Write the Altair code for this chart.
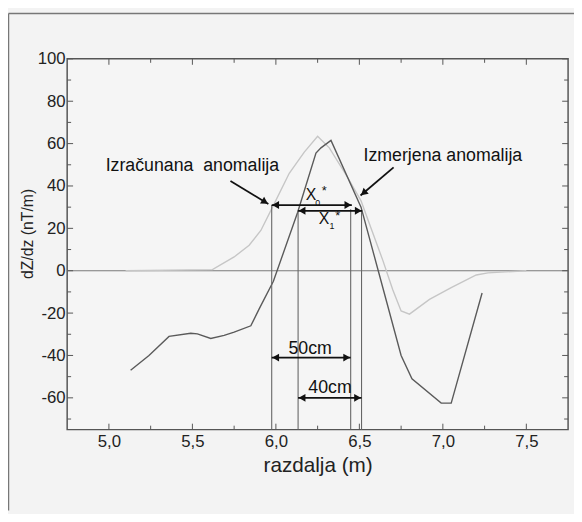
import math
import altair as alt
import pandas as pd

# ---------------- data ----------------
dist_measured = [5.13, 5.24, 5.36, 5.49, 5.53, 5.61, 5.69, 5.75, 5.85, 5.90, 5.985,
                 6.13, 6.24, 6.27, 6.33, 6.51, 6.62, 6.75, 6.815, 6.99, 7.05, 7.235]
dz_measured = [-47, -40, -31, -29.5, -29.8, -32, -30.5, -29, -26, -18, -5,
               27.5, 55.5, 58, 61.5, 30, -2, -40, -51, -62.5, -62.5, -10.5]

dist_calc = [5.10, 5.62, 5.75, 5.84, 5.91, 5.98, 6.08, 6.17, 6.25, 6.32, 6.43,
             6.51, 6.57, 6.64, 6.70, 6.75, 6.80, 6.92, 7.05, 7.20, 7.27, 7.50]
dz_calc = [0, 0.5, 6.5, 12, 19, 30, 46, 56, 63.5, 58, 44,
           33, 20, 5, -9, -19, -20.5, -13.5, -8, -2, -1, 0]

zero_level = [0]

guide_x = [5.975, 6.133, 6.448, 6.513]
guide_top = [31, 28.5, 29, 28.5]

span_x1 = [5.975, 6.133, 5.975, 6.133]
span_x2 = [6.455, 6.517, 6.448, 6.513]
span_y = [31, 28.3, -41, -60]

pointer_x1 = [5.728, 6.705]
pointer_y1 = [42.3, 48.8]
pointer_x2 = [5.955, 6.507]
pointer_y2 = [31.5, 35.5]

label_text = ["Izračunana\u00a0 anomalija", "Izmerjena anomalija", "50cm", "40cm"]
label_x = [5.50, 7.0, 6.205, 6.324]
label_y = [49.3, 54, -37, -55.3]

sym_text = ["X", "X"]
sym_x = [6.21, 6.288]
sym_y = [35.8, 24.2]
sub_text = ["0", "1"]
sub_x = [6.251, 6.336]
sub_y = [32.0, 21.0]
star_text = ["*", "*"]
star_x = [6.29, 6.37]
star_y = [37.5, 26.0]

x_ticks_major = [5.0, 5.5, 6.0, 6.5, 7.0, 7.5]
x_ticks_minor = [5.25, 5.75, 6.25, 6.75, 7.25]
y_ticks_major = [-60, -40, -20, 0, 20, 40, 60, 80, 100]
y_ticks_minor = [-70, -50, -30, -10, 10, 30, 50, 70, 90]

X_DOMAIN = [4.75, 7.75]
Y_DOMAIN = [-75, 100]

# ---------------- layout / style ----------------
W, H = 508, 376
FONT = "Liberation Sans"
PX_X = W / (X_DOMAIN[1] - X_DOMAIN[0])
PX_Y = H / (Y_DOMAIN[1] - Y_DOMAIN[0])

xscale = alt.Scale(domain=X_DOMAIN, nice=False, zero=False)
yscale = alt.Scale(domain=Y_DOMAIN, nice=False, zero=False)

xaxis = alt.Axis(values=x_ticks_major, labelExpr="replace(format(datum.value, '.1f'), '.', ',')",
                 ticks=False, domain=False, grid=False, labelPadding=4,
                 labelFontSize=17, labelFont=FONT, labelColor="#222",
                 title="razdalja (m)", titleFont=FONT, titleFontSize=21, titleFontWeight="normal",
                 titleColor="#222", titleY=25, titleBaseline="top")
yaxis = alt.Axis(values=y_ticks_major, labelExpr="datum.value + ''",
                 ticks=False, domain=False, grid=False, labelPadding=2,
                 labelFontSize=17, labelFont=FONT, labelColor="#222",
                 title="dZ/dz (nT/m)", titleFont=FONT, titleFontSize=16, titleFontWeight="normal",
                 titleColor="#222", titleX=-32, titleY=177)


def X(field):
    return alt.X(f"{field}:Q", scale=xscale, axis=xaxis)


def Y(field):
    return alt.Y(f"{field}:Q", scale=yscale, axis=yaxis)


layers = []

# zero line
layers.append(alt.Chart(pd.DataFrame({"y": zero_level})).mark_rule(color="#7a7a7a", strokeWidth=1.2)
              .encode(y=Y("y"), x=alt.value(0), x2=alt.value(W)))

# calculated anomaly (light)
df_calc = pd.DataFrame({"x": dist_calc, "y": dz_calc, "o": range(len(dist_calc))})
layers.append(alt.Chart(df_calc).mark_line(color="#c6c6c6", strokeWidth=1.4)
              .encode(x=X("x"), y=Y("y"), order="o:Q"))

# measured anomaly (dark)
df_meas = pd.DataFrame({"x": dist_measured, "y": dz_measured, "o": range(len(dist_measured))})
layers.append(alt.Chart(df_meas).mark_line(color="#5a5a5a", strokeWidth=1.4)
              .encode(x=X("x"), y=Y("y"), order="o:Q"))

# vertical guides
df_guides = pd.DataFrame({"x": guide_x, "top": guide_top, "bottom": [Y_DOMAIN[0]] * len(guide_x)})
layers.append(alt.Chart(df_guides).mark_rule(color="#666", strokeWidth=1.1)
              .encode(x=X("x"), y=Y("bottom"), y2="top:Q"))

# double arrows
df_span = pd.DataFrame({"x1": span_x1, "x2": span_x2, "y": span_y})
layers.append(alt.Chart(df_span).mark_rule(color="#111", strokeWidth=1.8)
              .encode(x=X("x1"), x2="x2:Q", y=Y("y")))
layers.append(alt.Chart(df_span).mark_point(shape="triangle-left", filled=True, size=64, color="#111",
                                            opacity=1, xOffset=4)
              .encode(x=X("x1"), y=Y("y")))
layers.append(alt.Chart(df_span).mark_point(shape="triangle-right", filled=True, size=64, color="#111",
                                            opacity=1, xOffset=-4)
              .encode(x=X("x2"), y=Y("y")))

# pointer arrows
for i in range(len(pointer_x1)):
    dxp = (pointer_x2[i] - pointer_x1[i]) * PX_X
    dyp = -(pointer_y2[i] - pointer_y1[i]) * PX_Y
    ang = math.degrees(math.atan2(dyp, dxp)) % 360
    ux, uy = dxp / math.hypot(dxp, dyp), dyp / math.hypot(dxp, dyp)
    dfp = pd.DataFrame({"x1": [pointer_x1[i]], "y1": [pointer_y1[i]],
                        "x2": [pointer_x2[i]], "y2": [pointer_y2[i]]})
    layers.append(alt.Chart(dfp).mark_rule(color="#111", strokeWidth=1.8)
                  .encode(x=X("x1"), y=Y("y1"), x2="x2:Q", y2="y2:Q"))
    layers.append(alt.Chart(dfp).mark_point(shape="triangle-right", filled=True, size=64, color="#111",
                                            opacity=1, angle=ang, xOffset=-4 * ux, yOffset=-4 * uy)
                  .encode(x=X("x2"), y=Y("y2")))

# text labels
df_lab = pd.DataFrame({"x": label_x, "y": label_y, "t": label_text})
layers.append(alt.Chart(df_lab).mark_text(font=FONT, fontSize=18, color="#111", baseline="middle")
              .encode(x=X("x"), y=Y("y"), text="t:N"))
df_sym = pd.DataFrame({"x": sym_x, "y": sym_y, "t": sym_text})
layers.append(alt.Chart(df_sym).mark_text(font=FONT, fontSize=16, color="#111", baseline="middle")
              .encode(x=X("x"), y=Y("y"), text="t:N"))
df_sub = pd.DataFrame({"x": sub_x, "y": sub_y, "t": sub_text})
layers.append(alt.Chart(df_sub).mark_text(font=FONT, fontSize=9, color="#111", baseline="middle")
              .encode(x=X("x"), y=Y("y"), text="t:N"))
df_star = pd.DataFrame({"x": star_x, "y": star_y, "t": star_text})
layers.append(alt.Chart(df_star).mark_text(font=FONT, fontSize=13, color="#111", baseline="middle")
              .encode(x=X("x"), y=Y("y"), text="t:N"))

# inward ticks
TICK_COLOR = "#555"
for vals, ln in ((x_ticks_major, 6), (x_ticks_minor, 4)):
    dft = pd.DataFrame({"v": vals})
    layers.append(alt.Chart(dft).mark_rule(color=TICK_COLOR, strokeWidth=1)
                  .encode(x=X("v"), y=alt.value(H), y2=alt.value(H - ln)))
    layers.append(alt.Chart(dft).mark_rule(color=TICK_COLOR, strokeWidth=1)
                  .encode(x=X("v"), y=alt.value(0), y2=alt.value(ln)))
for vals, ln in ((y_ticks_major, 6), (y_ticks_minor, 4)):
    dft = pd.DataFrame({"v": vals})
    layers.append(alt.Chart(dft).mark_rule(color=TICK_COLOR, strokeWidth=1)
                  .encode(y=Y("v"), x=alt.value(0), x2=alt.value(ln)))
    layers.append(alt.Chart(dft).mark_rule(color=TICK_COLOR, strokeWidth=1)
                  .encode(y=Y("v"), x=alt.value(W), x2=alt.value(W - ln)))

# outer page frame (decoration)
frame = pd.DataFrame({"k": [0]})
layers.append(alt.Chart(frame).mark_rule(color="#777", strokeWidth=1.5)
              .encode(x=alt.value(-59.5), x2=alt.value(W + 6), y=alt.value(-46)))
layers.append(alt.Chart(frame).mark_rule(color="#777", strokeWidth=1.5)
              .encode(x=alt.value(-59.5), y=alt.value(-46), y2=alt.value(H + 82)))

chart = alt.layer(*layers).properties(
    width=W, height=H,
    autosize=alt.AutoSizeParams(type="none"),
    padding={"left": 60, "top": 48, "right": 6, "bottom": 82},
    background="#f3f3f3",
).configure_view(stroke="#555", strokeWidth=1.5, fill="#f5f5f5")

chart.save("out.html", embed_options={"renderer": "svg", "actions": False})
